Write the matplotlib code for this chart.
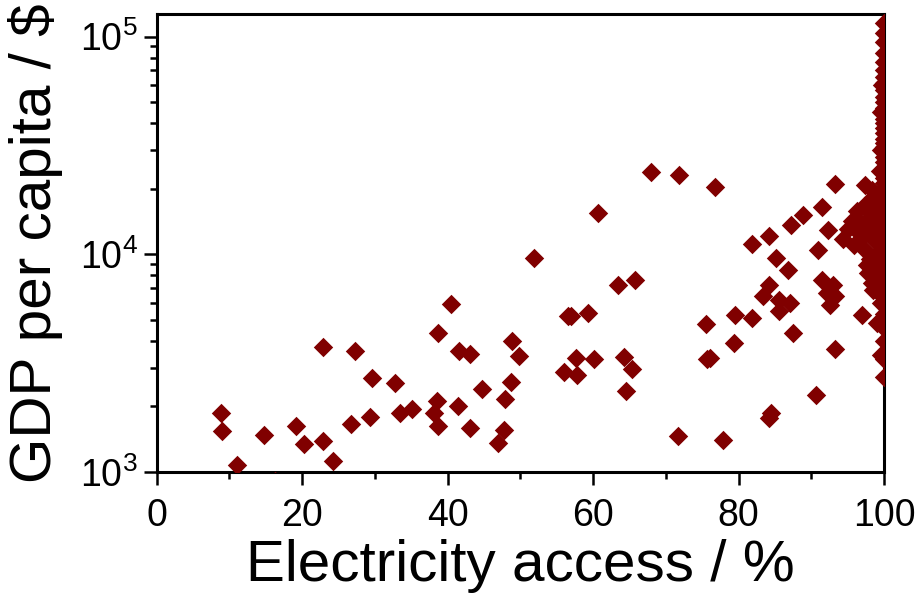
import matplotlib
matplotlib.use("Agg")
import matplotlib.pyplot as plt
from matplotlib.ticker import MultipleLocator, LogLocator, FuncFormatter, NullFormatter
import numpy as np

plt.rcParams['font.family'] = ['Liberation Sans', 'DejaVu Sans']

# electricity access (%) and GDP per capita ($)
access_low = [8.8, 9.0, 11.0, 14.7, 16.3, 19.2, 20.3, 22.9, 24.2, 22.9, 26.7, 27.2,
              29.3, 29.6, 32.8, 33.5, 35.1, 38.5, 38.1, 38.7, 38.6, 40.5, 41.4, 41.6,
              43.0, 43.0, 44.7, 46.9, 47.8, 47.9, 48.7, 48.9, 49.8]
gdp_low = [1860, 1550, 1080, 1480, 905, 1620, 1350, 1385, 1120, 3770, 1670, 3610,
           1780, 2700, 2560, 1870, 1950, 2130, 1870, 1630, 4330, 5880, 2000, 3580,
           3490, 1590, 2400, 1365, 1555, 2170, 2590, 4000, 3410]

access_mid = [51.8, 56.0, 56.5, 57.0, 57.7, 57.8, 59.3, 60.1, 60.7, 63.4, 64.3, 65.4,
              64.5, 65.8, 67.9, 71.6, 71.8, 75.5, 75.6, 76.1, 76.7, 77.8, 79.3, 79.5,
              81.8, 81.8, 84.2, 84.5, 84.1, 85.1, 86.8, 87.2, 87.5, 88.8, 90.6, 90.9,
              91.4, 92.3, 93.2, 93.3,
              84.1, 83.4, 85.5, 87.1, 85.5, 91.4, 93.0, 92.1, 93.3, 92.6]
gdp_mid = [9660, 2890, 5210, 5210, 3340, 2790, 5350, 3310, 15450, 7200, 3390, 2980,
           2350, 7610, 23770, 1465, 23100, 4780, 3290, 3340, 20430, 1400, 3930, 5270,
           5090, 11150, 12090, 1860, 1765, 9620, 8430, 13680, 4370, 15190, 2260, 10500,
           16480, 12980, 3680, 21000,
           7240, 6400, 6180, 5970, 5460, 7640, 7240, 6640, 6400, 5860]

access_high = [94.4, 95.8, 95.6, 96.2, 97.2, 96.7, 97.4, 97.8, 98.1, 98.5, 98.3, 97.4,
               97.6, 97.8, 98.3, 98.5, 99.5, 99.0, 96.9, 99.6, 99.8, 97.0, 98.8, 99.2,
               98.9, 99.0, 98.0, 99.3, 99.1, 96.5, 95.0,
               99.5, 99.6, 99.4, 99.7, 99.3, 99.6, 99.5]
gdp_high = [11800, 11000, 14150, 15740, 16600, 13900, 10500, 12980, 14900, 18400, 19800, 20900,
            8950, 8190, 7360, 6870, 5970, 4830, 5270, 3450, 4840, 12000, 11500, 13500,
            16000, 10000, 9500, 8500, 7800, 12500, 13000,
            45000, 30000, 24000, 60000, 18000, 9000, 6500]

# countries with full access
gdp_full = [116000, 104000, 94000, 84000, 76000, 70000, 65000, 61000, 57000, 53000,
            50000, 47000, 44500, 42000, 40000, 38000, 36000, 34000, 32500, 31000,
            29500, 28000, 26500, 25000, 23800, 22500, 21300, 20200, 19200, 18200,
            17300, 16400, 15500, 14700, 13900, 13200, 12500, 11800, 11200, 10600,
            10000, 9400, 8900, 8300, 7700, 7100, 6500, 5900, 5300, 4600, 4000, 3300, 2740]
access_full = [100.0] * len(gdp_full)

access = access_low + access_mid + access_high + access_full
gdp = gdp_low + gdp_mid + gdp_high + gdp_full

fig = plt.figure(figsize=(9.22, 5.98), dpi=100)
ax = fig.add_axes([0.170, 0.2107, 0.789, 0.766])

ax.scatter(access, gdp, marker='D', s=98, color='#800000', linewidths=0, zorder=3)

ax.set_yscale('log')
ax.set_xlim(0, 100)
ax.set_ylim(1000, 1.27e5)

ax.xaxis.set_major_locator(MultipleLocator(20))
ax.xaxis.set_minor_locator(MultipleLocator(10))
ax.yaxis.set_major_locator(LogLocator(base=10, numticks=10))
ax.yaxis.set_minor_locator(LogLocator(base=10, subs=np.arange(2, 10), numticks=20))
ax.yaxis.set_major_formatter(FuncFormatter(lambda v, p: r'$\mathregular{10^{%d}}$' % round(np.log10(v))))
ax.yaxis.set_minor_formatter(NullFormatter())

ax.tick_params(which='both', direction='out', top=False, right=False, width=1.8, labelsize=27)
ax.tick_params(which='major', length=9.5)
ax.tick_params(which='minor', length=5)
ax.tick_params(axis='x', pad=9)
ax.tick_params(axis='y', pad=4)

for s in ax.spines.values():
    s.set_linewidth(2.2)
    s.set_color('black')

ax.set_xlabel('Electricity access / %', fontsize=42, labelpad=4)
ax.set_ylabel('GDP per capita / $', fontsize=42, labelpad=12)

fig.savefig('out.png', dpi=100)
